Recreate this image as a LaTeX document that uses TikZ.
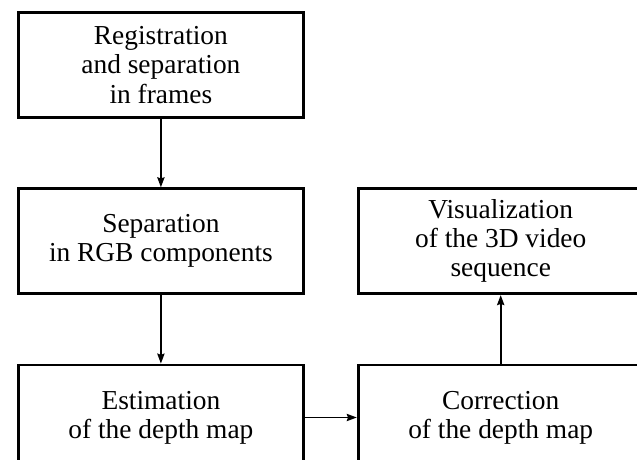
\documentclass[tikz,border=0pt]{standalone}
\usepackage{fontspec}
\setmainfont{Liberation Serif}
\usetikzlibrary{arrows.meta, positioning}

\begin{document}
\begin{tikzpicture}[
  x=0.5pt, y=-0.5pt,
  node distance=34.25pt and 26pt,
  every node/.style={font=\fontsize{13.7}{14.6}\selectfont},
  stepbox/.style={
    draw, line width=1.4pt, align=center,
    minimum width=142.5pt, minimum height=52.5pt,
    inner sep=0pt
  },
  arrow/.style={-{Stealth[length=5pt, width=3.6pt, inset=0.6pt]}, line width=0.9pt}
]

  % visible region of the figure
  \useasboundingbox (0,0) rectangle (637,460);
  \clip (0,0) rectangle (637,460);

  % left column
  \node[stepbox, anchor=north west] (reg) at (17,11) {Registration\\and separation\\in frames};
  \node[stepbox, below=of reg] (rgb) {Separation\\in RGB components};
  \node[stepbox, below=of rgb] (est) {Estimation\\of the depth map};

  % right column
  \node[stepbox, right=of est] (corr) {Correction\\of the depth map};
  \node[stepbox, right=of rgb] (vis) {Visualization\\of the 3D video\\sequence};

  % connectors
  \draw[arrow] (reg) -- (rgb);
  \draw[arrow] (rgb) -- (est);
  \draw[arrow] (est) -- (corr);
  \draw[arrow] (corr) -- (vis);

\end{tikzpicture}
\end{document}
